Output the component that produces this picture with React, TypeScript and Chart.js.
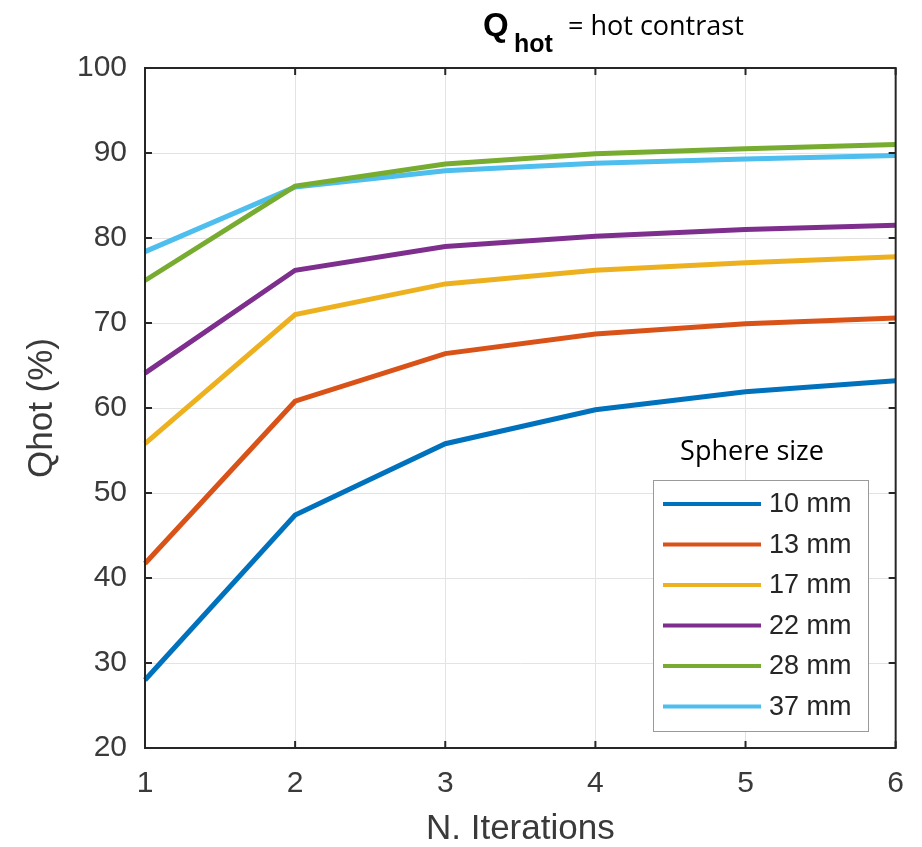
import React, { useEffect, useRef } from 'react';
import { Chart, registerables } from 'chart.js';

Chart.register(...registerables);

// ---- data ----
const iterations = ['1', '2', '3', '4', '5', '6'];
const sphereSizes = ['10 mm', '13 mm', '17 mm', '22 mm', '28 mm', '37 mm'];
const q10mm = [28.0, 47.4, 55.8, 59.8, 61.9, 63.2];
const q13mm = [41.7, 60.8, 66.4, 68.7, 69.9, 70.6];
const q17mm = [55.8, 71.0, 74.6, 76.2, 77.1, 77.8];
const q22mm = [64.1, 76.2, 79.0, 80.2, 81.0, 81.5];
const q28mm = [75.0, 86.1, 88.7, 89.9, 90.5, 91.0];
const q37mm = [78.4, 86.0, 87.9, 88.8, 89.3, 89.7];
const seriesValues = [q10mm, q13mm, q17mm, q22mm, q28mm, q37mm];
const seriesColors = ['#0072BD', '#D95319', '#EDB120', '#7E2F8E', '#77AC30', '#4DBEEE'];
const yMin = 20;
const yMax = 100;
const yStep = 10;
const xTitle = 'N. Iterations';
const yTitle = 'Qhot (%)';
const legendTitle = 'Sphere size';
const titleMain = 'Q';
const titleSub = 'hot';
const titleRest = '= hot contrast';

const AXIS_COLOR = '#262626';
const TICK_COLOR = '#3a3a3a';
const TICK_FONT = "'Liberation Sans', Arial, sans-serif";
const CAL_FONT = "'Open Sans', 'Noto Sans', sans-serif";

const framePlugin = {
  id: 'frame',
  afterDatasetsDraw(chart: any) {
    const { ctx, chartArea: a, scales } = chart;
    ctx.save();
    ctx.strokeStyle = AXIS_COLOR;
    ctx.lineWidth = 2;
    ctx.strokeRect(a.left, a.top, a.right - a.left, a.bottom - a.top);
    const tl = 7;
    ctx.beginPath();
    scales.y.ticks.forEach((t: any) => {
      const y = scales.y.getPixelForValue(t.value);
      ctx.moveTo(a.left, y); ctx.lineTo(a.left + tl, y);
      ctx.moveTo(a.right, y); ctx.lineTo(a.right - tl, y);
    });
    scales.x.ticks.forEach((t: any, i: number) => {
      const x = scales.x.getPixelForTick(i);
      ctx.moveTo(x, a.bottom); ctx.lineTo(x, a.bottom - tl);
      ctx.moveTo(x, a.top); ctx.lineTo(x, a.top + tl);
    });
    ctx.stroke();
    ctx.restore();
  },
};

const titlePlugin = {
  id: 'customTitle',
  afterDraw(chart: any) {
    const { ctx } = chart;
    ctx.save();
    ctx.fillStyle = '#000';
    ctx.textBaseline = 'alphabetic';
    ctx.textAlign = 'left';
    ctx.font = `bold 33px ${TICK_FONT}`;
    ctx.fillText(titleMain, 483, 36);
    ctx.font = `bold 25px ${TICK_FONT}`;
    ctx.fillText(titleSub, 514, 52);
    ctx.font = `27px ${CAL_FONT}`;
    ctx.fillText(titleRest, 568, 35);
    ctx.restore();
  },
};

const legendPlugin = {
  id: 'boxLegend',
  afterDraw(chart: any) {
    const { ctx } = chart;
    const bx = 653, by = 480, bw = 215, bh = 251;
    ctx.save();
    ctx.fillStyle = '#000';
    ctx.font = `27px ${CAL_FONT}`;
    ctx.textAlign = 'center';
    ctx.textBaseline = 'middle';
    ctx.fillText(legendTitle, 752, 452);
    ctx.fillStyle = '#fff';
    ctx.fillRect(bx, by, bw, bh);
    ctx.strokeStyle = '#9a9a9a';
    ctx.lineWidth = 1;
    ctx.strokeRect(bx + 0.5, by + 0.5, bw, bh);
    chart.data.datasets.forEach((ds: any, i: number) => {
      const y = by + 24 + i * 40.5;
      ctx.strokeStyle = ds.borderColor;
      ctx.lineWidth = 4;
      ctx.beginPath();
      ctx.moveTo(bx + 10, y);
      ctx.lineTo(bx + 108, y);
      ctx.stroke();
      ctx.fillStyle = '#262626';
      ctx.font = `27px ${TICK_FONT}`;
      ctx.textAlign = 'left';
      ctx.textBaseline = 'middle';
      ctx.fillText(ds.label, bx + 116, y + 1);
    });
    ctx.restore();
  },
};

export default function App() {
  const canvasRef = useRef<HTMLCanvasElement | null>(null);

  useEffect(() => {
    const canvas = canvasRef.current;
    if (!canvas) return;
    const chart = new Chart(canvas, {
      type: 'line',
      data: {
        labels: iterations,
        datasets: seriesValues.map((vals, i) => ({
          label: sphereSizes[i],
          data: vals,
          borderColor: seriesColors[i],
          backgroundColor: seriesColors[i],
          borderWidth: 5,
          pointRadius: 0,
          tension: 0,
          fill: false,
        })),
      },
      options: {
        animation: false,
        responsive: false,
        maintainAspectRatio: false,
        layout: { padding: { top: 68, right: 25, left: 0, bottom: 0 } },
        plugins: {
          legend: { display: false },
          title: { display: false },
          tooltip: { enabled: false },
        },
        scales: {
          x: {
            type: 'category',
            offset: false,
            grid: { color: '#e3e3e3', lineWidth: 1, drawTicks: false },
            border: { display: false },
            ticks: {
              color: TICK_COLOR,
              font: { family: TICK_FONT, size: 30 },
              padding: 18,
              maxRotation: 0,
              autoSkip: false,
            },
            title: {
              display: true,
              text: xTitle,
              color: TICK_COLOR,
              font: { family: TICK_FONT, size: 35, lineHeight: 1 },
              padding: { top: 0, bottom: 0 },
            },
            afterFit(scale: any) { scale.height = 99; },
          },
          y: {
            type: 'linear',
            min: yMin,
            max: yMax,
            grid: { color: '#e3e3e3', lineWidth: 1, drawTicks: false },
            border: { display: false },
            ticks: {
              stepSize: yStep,
              color: TICK_COLOR,
              font: { family: TICK_FONT, size: 30 },
              padding: 18,
              autoSkip: false,
            },
            title: {
              display: true,
              text: yTitle,
              color: TICK_COLOR,
              font: { family: TICK_FONT, size: 35, lineHeight: 1 },
              padding: { top: 25, bottom: 0 },
            },
            afterFit(scale: any) { scale.width = 145; },
          },
        },
      },
      plugins: [framePlugin, legendPlugin, titlePlugin],
    });
    return () => chart.destroy();
  }, []);

  return (
    <div style={{ position: 'absolute', left: 0, top: 0, width: 922, height: 847, background: '#fff' }}>
      <canvas ref={canvasRef} width={922} height={847} style={{ width: 922, height: 847 }} />
    </div>
  );
}
